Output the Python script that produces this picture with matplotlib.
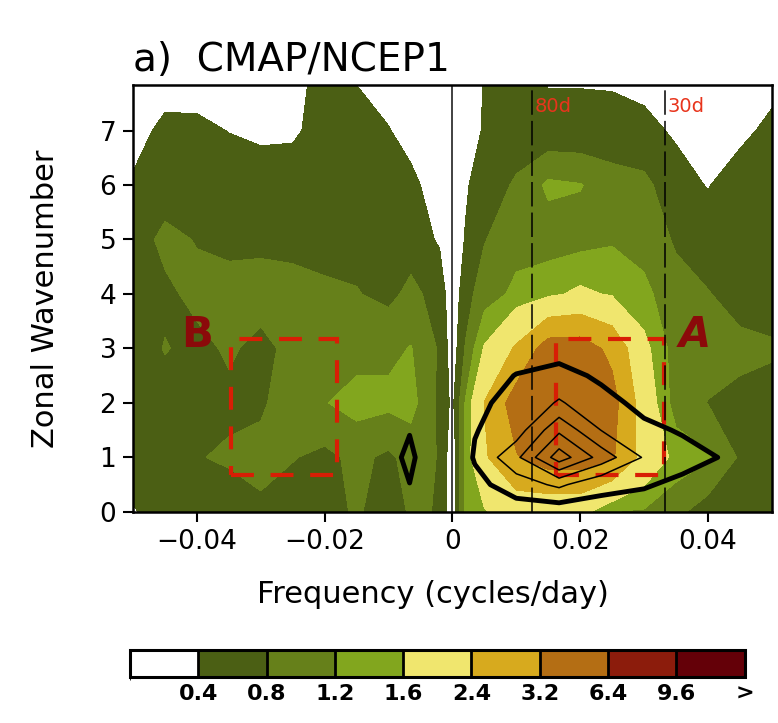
import numpy as np
import matplotlib
matplotlib.use("Agg")
import matplotlib.pyplot as plt
from matplotlib.colors import ListedColormap, BoundaryNorm
from matplotlib.patches import Rectangle

# grid of the power spectrum
freq = [-0.05, -0.045, -0.04, -0.035, -0.03, -0.025, -0.02, -0.015, -0.01, -0.0065, -0.002,
        0.0, 0.002, 0.005, 0.01, 0.015, 0.02, 0.025, 0.03, 0.035, 0.04, 0.045, 0.05]
wave = [0, 1, 2, 3, 4, 5, 6, 7, 8]

power_k0 = [0.38, 0.5, 0.55, 0.6, 0.75, 0.6, 0.65, 0.85, 0.6, 0.85, 0.78, 0.1, 1.3, 1.55, 1.9, 1.8, 1.8, 1.2, 1.15, 0.9, 0.6, 0.55, 0.55]
power_k1 = [0.55, 0.65, 0.78, 0.85, 0.88, 0.82, 0.7, 0.9, 0.72, 0.95, 0.78, 0.1, 1.3, 2.3, 3.15, 3.6, 3.6, 3.3, 2.1, 1.45, 1.25, 0.75, 0.65]
power_k2 = [0.6, 0.65, 0.7, 0.72, 0.76, 0.95, 1.18, 1.35, 1.3, 1.35, 0.7, 0.3, 1.22, 2.42, 3.6, 4.3, 4.3, 3.5, 2.0, 1.0, 0.79, 0.7, 0.65]
power_k3 = [0.6, 0.82, 0.7, 0.85, 0.7, 0.9, 1.0, 1.05, 1.1, 1.22, 0.75, 0.17, 0.82, 1.65, 2.5, 3.6, 3.6, 3.0, 1.75, 1.0, 0.95, 0.9, 0.85]
power_k4 = [0.6, 0.72, 0.9, 0.95, 0.95, 0.9, 0.85, 0.82, 0.7, 0.9, 0.65, 0.1, 0.65, 1.0, 1.3, 1.5, 1.7, 1.55, 1.3, 0.95, 0.82, 0.65, 0.6]
power_k5 = [0.6, 0.9, 0.78, 0.7, 0.72, 0.72, 0.7, 0.68, 0.62, 0.62, 0.35, 0.15, 0.42, 0.78, 1.05, 1.0, 1.05, 1.15, 1.05, 0.75, 0.6, 0.6, 0.6]
power_k6 = [0.45, 0.6, 0.65, 0.62, 0.58, 0.6, 0.62, 0.6, 0.55, 0.5, 0.2, 0.1, 0.35, 0.6, 0.85, 1.28, 1.22, 1.0, 0.9, 0.55, 0.38, 0.6, 0.6]
power_k7 = [0.25, 0.5, 0.49, 0.39, 0.33, 0.34, 0.55, 0.5, 0.42, 0.25, 0.1, 0.05, 0.15, 0.45, 0.6, 0.5, 0.5, 0.5, 0.5, 0.35, 0.25, 0.3, 0.5]
power_k8 = [0.15, 0.2, 0.2, 0.2, 0.2, 0.3, 0.5, 0.38, 0.2, 0.1, 0.05, 0.05, 0.1, 0.42, 0.5, 0.37, 0.37, 0.36, 0.28, 0.2, 0.15, 0.2, 0.25]

# second field drawn as black contour lines
line_freq = [-0.05, -0.0117, -0.0067, -0.0017, 0.0035, 0.01, 0.0167, 0.0233, 0.03, 0.036, 0.045, 0.05]
line_wave = [0, 0.5, 1, 1.5, 2, 2.5, 3]
line_k00 = [0, 0, 0.3, -0.4, 0, 0.5, 0.4, 0.7, 0.45, 0.3, 0.1, 0]
line_k05 = [0, 0, 0.98, -0.4, 0.7, 1.5, 2.2, 1.2, 1.1, 0.75, 0.4, 0.1]
line_k10 = [0, 0.15, 1.3, -0.4, 1.1, 2.75, 5.55, 3.6, 1.9, 1.4, 0.75, 0.3]
line_k15 = [0, 0, 0.93, -0.4, 0.95, 1.5, 3.8, 1.98, 1.25, 0.9, 0.4, 0.1]
line_k20 = [0, 0, 0.3, -0.4, 0.8, 1.3, 2.1, 1.4, 0.68, 0.4, 0.1, 0]
line_k25 = [0, 0, 0, -0.2, 0.3, 1.05, 1.4, 0.8, 0.3, 0.1, 0, 0]
line_k30 = [0, 0, 0, 0, 0, 0.3, 0.5, 0.2, 0, 0, 0, 0]

levels = [0, 0.4, 0.8, 1.2, 1.6, 2.4, 3.2, 6.4, 9.6, 20]
level_labels = ["0.4", "0.8", "1.2", "1.6", "2.4", "3.2", "6.4", "9.6", ">"]
colors = ["#ffffff", "#4b5f14", "#66801a", "#82a61e", "#f0e66e",
          "#d7aa1e", "#b46e14", "#8c1c0c", "#640008"]

# periods marked with dashed lines, and the two boxes
periods = [80, 30]
box_a = [0.0162, 0.0331, 0.67, 3.17]
box_b = [-0.0346, -0.0180, 0.67, 3.17]

power = np.array([power_k0, power_k1, power_k2, power_k3, power_k4,
                  power_k5, power_k6, power_k7, power_k8])
lines = np.array([line_k00, line_k05, line_k10, line_k15, line_k20, line_k25, line_k30])

cmap = ListedColormap(colors)
norm = BoundaryNorm(levels, cmap.N)

fig = plt.figure(figsize=(7.78, 7.23), dpi=100)
ax = fig.add_axes([0.171, 0.292, 0.821, 0.590])

cf = ax.contourf(freq, wave, power, levels=levels, cmap=cmap, norm=norm)
ax.contour(line_freq, line_wave, lines, levels=[2, 3, 4, 5], colors="black", linewidths=1.1)
ax.contour(line_freq, line_wave, lines, levels=[1], colors="black", linewidths=3.5)

ax.axvline(0, color="#333333", lw=1.3)
for p in periods:
    ax.axvline(1 / p, color="black", lw=1.1, linestyle=(0, (16, 4)))
    ax.text(1 / p + 0.0003, 7.45, f"{p}d", color="#e8341c", fontsize=14, va="center", ha="left")

for box in [box_a, box_b]:
    ax.add_patch(Rectangle((box[0], box[2]), box[1] - box[0], box[3] - box[2], fill=False,
                           edgecolor="#d81e05", lw=3, linestyle=(0, (5.5, 4))))
ax.text(0.038, 3.24, "A", color="#8b0a0a", fontsize=30, fontweight="bold", style="italic",
        ha="center", va="center")
ax.text(-0.04, 3.24, "B", color="#8b0a0a", fontsize=30, fontweight="bold",
        ha="center", va="center")

ax.set_xlim(-0.05, 0.05)
ax.set_ylim(0, 7.83)
ax.set_xticks([-0.04, -0.02, 0, 0.02, 0.04])
ax.set_xticklabels(["\u22120.04", "\u22120.02", "0", "0.02", "0.04"])
ax.set_yticks(range(8))
ax.tick_params(direction="out", length=7, width=1.5, labelsize=19, pad=5)
for s in ax.spines.values():
    s.set_linewidth(1.8)
ax.set_xlabel("Frequency (cycles/day)", fontsize=22)
ax.set_ylabel("Zonal Wavenumber", fontsize=22)
ax.xaxis.set_label_coords(0.47, -0.16)
ax.yaxis.set_label_coords(-0.115, 0.5)
ax.set_title("a)  CMAP/NCEP1", loc="left", fontsize=28, pad=10)

# colorbar
cax = fig.add_axes([0.167, 0.064, 0.790, 0.037])
cb = fig.colorbar(cf, cax=cax, orientation="horizontal", spacing="uniform",
                  drawedges=True, ticks=levels[1:])
cb.set_ticklabels(level_labels)
cb.outline.set_linewidth(2.2)
cb.dividers.set_linewidth(2)
cax.tick_params(length=0, labelsize=16, pad=5)
for t in cax.get_xticklabels():
    t.set_fontweight("bold")

fig.savefig("out.png", dpi=100)
